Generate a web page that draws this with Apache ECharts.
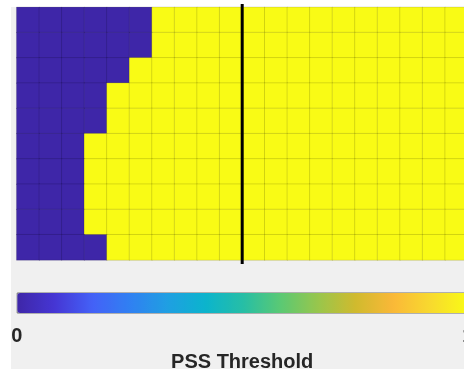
<!DOCTYPE html>
<html>
<head>
<meta charset="utf-8">
<script src="https://cdn.jsdelivr.net/npm/echarts@6/dist/echarts.min.js"></script>
<style>
html,body{margin:0;padding:0;background:#fff;}
#chart{width:464px;height:369px;}
</style>
</head>
<body>
<div id="chart"></div>
<script>
// Column and row categories
const columns = ['1','2','3','4','5','6','7','8','9','10','11','12','13','14','15','16','17','18','19','20'];
const rows = ['1','2','3','4','5','6','7','8','9','10'];
// Cell values (0 = below threshold, 1 = above), one array per row, top to bottom
const row1  = [0,0,0,0,0,0,1,1,1,1,1,1,1,1,1,1,1,1,1,1];
const row2  = [0,0,0,0,0,0,1,1,1,1,1,1,1,1,1,1,1,1,1,1];
const row3  = [0,0,0,0,0,1,1,1,1,1,1,1,1,1,1,1,1,1,1,1];
const row4  = [0,0,0,0,1,1,1,1,1,1,1,1,1,1,1,1,1,1,1,1];
const row5  = [0,0,0,0,1,1,1,1,1,1,1,1,1,1,1,1,1,1,1,1];
const row6  = [0,0,0,1,1,1,1,1,1,1,1,1,1,1,1,1,1,1,1,1];
const row7  = [0,0,0,1,1,1,1,1,1,1,1,1,1,1,1,1,1,1,1,1];
const row8  = [0,0,0,1,1,1,1,1,1,1,1,1,1,1,1,1,1,1,1,1];
const row9  = [0,0,0,1,1,1,1,1,1,1,1,1,1,1,1,1,1,1,1,1];
const row10 = [0,0,0,0,1,1,1,1,1,1,1,1,1,1,1,1,1,1,1,1];
const cellRows = [row1,row2,row3,row4,row5,row6,row7,row8,row9,row10];
// Vertical marker line position (column boundary) and its vertical extent in row units
const markerX = [10, 10];
const markerY = [-0.13, 10.16];
// Colorbar range and tick labels
const colorbarMin = 0;
const colorbarMax = 1;
const colorbarTitle = 'PSS Threshold';
// Parula-like colormap
const parula = ['#3e26a8','#4536d4','#4461f7','#3080f2','#1f9fe2','#0bb4cd','#26bea6','#5ac974','#98c64c','#d0ba2e','#fab838','#f8da2e','#f9fb15'];

const heatData = [];
cellRows.forEach((r, yi) => r.forEach((v, xi) => heatData.push([xi, yi, v])));

const FONT = 'Liberation Sans, Arial, Helvetica, sans-serif';
const chart = echarts.init(document.getElementById('chart'), null, {renderer: 'canvas'});
chart.setOption({
  animation: false,
  backgroundColor: '#f0f0f0',
  graphic: [
    {type: 'rect', shape: {x: 0, y: 0, width: 464, height: 7}, style: {fill: '#ffffff'}, z: -10, silent: true},
    {type: 'rect', shape: {x: 0, y: 0, width: 11, height: 369}, style: {fill: '#ffffff'}, z: -10, silent: true}
  ],
  grid: [
    {left: 16.7, top: 7.3, width: 451, height: 252.7, containLabel: false, outerBoundsMode: 'none'},
    {left: 16.7, top: 292.5, width: 451, height: 20, containLabel: false, outerBoundsMode: 'none'}
  ],
  xAxis: [
    {type: 'category', gridIndex: 0, data: columns, show: false},
    {type: 'value', gridIndex: 0, min: 0, max: columns.length, show: false},
    {type: 'value', gridIndex: 1, min: colorbarMin, max: colorbarMax, interval: 1,
     axisLine: {show: false}, axisTick: {show: false}, splitLine: {show: false},
     axisLabel: {fontFamily: FONT, fontWeight: 'bold', fontSize: 20, color: '#262626', margin: 14, hideOverlap: false},
     name: colorbarTitle, nameLocation: 'middle', nameGap: 40,
     nameTextStyle: {fontFamily: FONT, fontWeight: 'bold', fontSize: 20, color: '#262626'}}
  ],
  yAxis: [
    {type: 'category', gridIndex: 0, data: rows, inverse: true, show: false},
    {type: 'value', gridIndex: 0, min: 0, max: rows.length, inverse: true, show: false},
    {type: 'value', gridIndex: 1, show: false}
  ],
  visualMap: {
    type: 'continuous',
    seriesIndex: 0,
    min: colorbarMin,
    max: colorbarMax,
    orient: 'horizontal',
    left: 16.7,
    top: 292.5,
    itemWidth: 20,
    itemHeight: 451,
    padding: 0,
    calculable: false,
    hoverLink: false,
    borderColor: '#6f6f6f',
    borderWidth: 1,
    inRange: {color: parula}
  },
  series: [
    {
      type: 'heatmap',
      xAxisIndex: 0, yAxisIndex: 0,
      data: heatData,
      itemStyle: {borderColor: 'rgba(0,0,0,0.13)', borderWidth: 1},
      emphasis: {disabled: true}
    },
    {
      type: 'line',
      xAxisIndex: 1, yAxisIndex: 1,
      data: [[markerX[0], markerY[0]], [markerX[1], markerY[1]]],
      symbol: 'none',
      clip: false,
      lineStyle: {color: '#000000', width: 3},
      z: 5
    }
  ]
});
</script>
</body>
</html>
